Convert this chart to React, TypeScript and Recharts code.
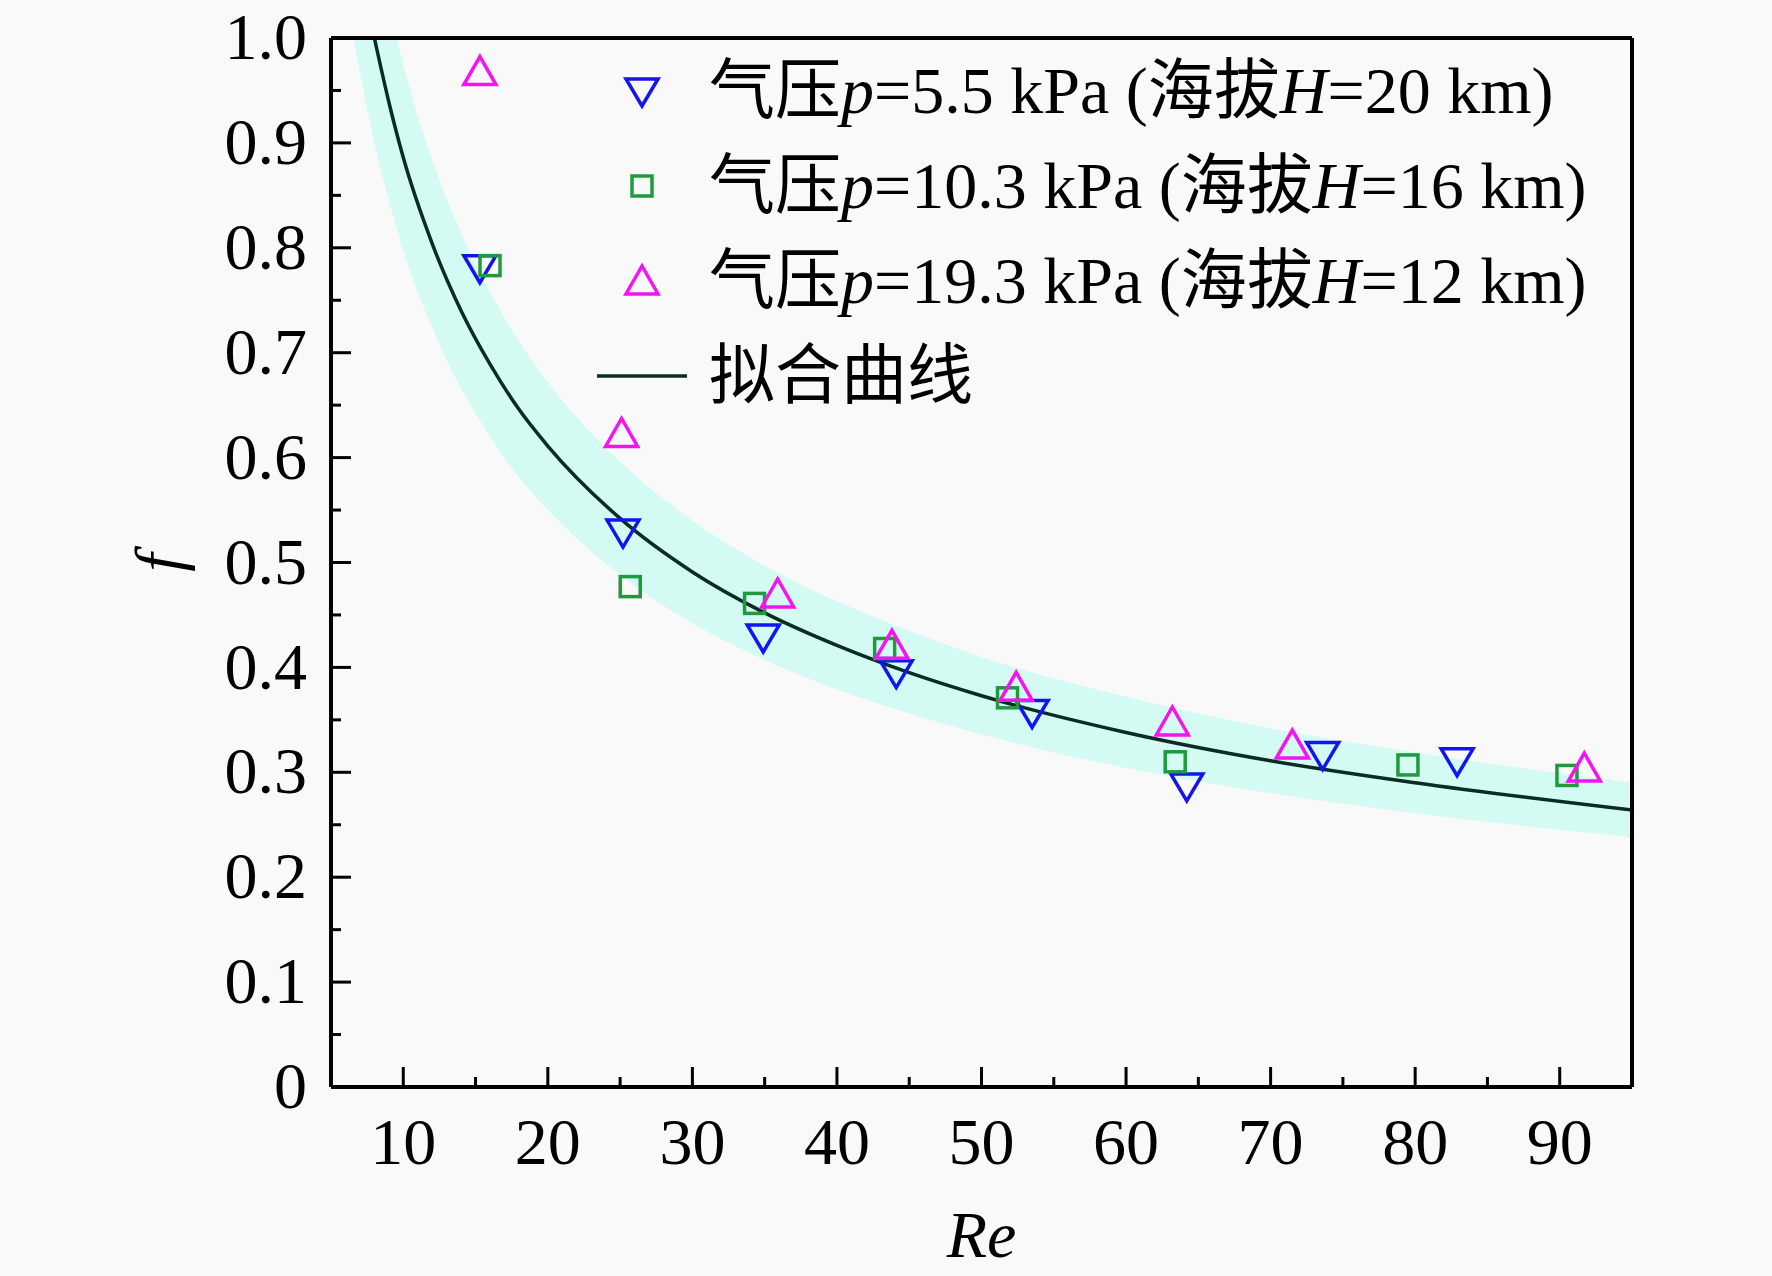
import React from 'react';
import { ComposedChart, XAxis, YAxis, Line, Area, Scatter, ReferenceLine } from 'recharts';

document.body.style.margin = '0';
document.body.style.background = '#f9f9f9';

const FONT = '"Liberation Serif", "Times New Roman", "Noto Sans CJK SC", serif';
const BLUE = '#1414ee';
const GREEN = '#1f9a3c';
const MAGENTA = '#f514f0';
const CURVE = '#0b2c20';
const BAND = '#d4fbf3';

// 气压 p=5.5 kPa (H=20 km)
const reP55 = [15.3, 25.2, 34.9, 44.1, 53.5, 64.2, 73.6, 82.9];
const fP55 = [0.781, 0.529, 0.429, 0.395, 0.357, 0.287, 0.317, 0.311];
// 气压 p=10.3 kPa (H=16 km)
const reP103 = [16.0, 25.7, 34.3, 43.3, 51.8, 63.4, 79.5, 90.5];
const fP103 = [0.783, 0.477, 0.461, 0.418, 0.371, 0.310, 0.307, 0.297];
// 气压 p=19.3 kPa (H=12 km)
const reP193 = [15.3, 25.1, 35.9, 43.8, 52.4, 63.2, 71.5, 91.7];
const fP193 = [0.968, 0.623, 0.470, 0.421, 0.381, 0.348, 0.326, 0.304];

// 拟合曲线
const reFit = [8, 9, 10, 12, 14, 16, 18, 20, 25, 30, 35, 40, 45, 50, 60, 70, 80, 95];
const fFit = [1.0, 0.939, 0.886, 0.804, 0.74, 0.689, 0.646, 0.611, 0.542, 0.491, 0.452, 0.421, 0.395, 0.373, 0.338, 0.311, 0.29, 0.264];

// shaded band around the fit
const reBand = [6.5, 7, 8, 9, 10, 12, 14, 16, 18, 20, 25, 30, 35, 40, 45, 50, 60, 70, 80, 95];
const bandLow = [1.006, 0.967, 0.9, 0.845, 0.797, 0.724, 0.666, 0.62, 0.581, 0.55, 0.488, 0.442, 0.407, 0.379, 0.356, 0.336, 0.304, 0.28, 0.261, 0.238];
const bandHigh = [1.23, 1.181, 1.1, 1.033, 0.975, 0.884, 0.814, 0.758, 0.711, 0.672, 0.596, 0.54, 0.497, 0.463, 0.435, 0.41, 0.372, 0.342, 0.319, 0.29];

const xTicks = [10, 15, 20, 25, 30, 35, 40, 45, 50, 55, 60, 65, 70, 75, 80, 85, 90];
const yTicks = [0, 0.05, 0.1, 0.15, 0.2, 0.25, 0.3, 0.35, 0.4, 0.45, 0.5, 0.55, 0.6, 0.65, 0.7, 0.75, 0.8, 0.85, 0.9, 0.95, 1.0];

const toPoints = (re: number[], f: number[]) => re.map((r, i) => ({ re: r, f: f[i] }));
const dataP55 = toPoints(reP55, fP55);
const dataP103 = toPoints(reP103, fP103);
const dataP193 = toPoints(reP193, fP193);
const fitData = toPoints(reFit, fFit);
const bandData = reBand.map((r, i) => ({ re: r, band: [bandLow[i], bandHigh[i]] }));

const X_MARGIN = 30;
const Y_MARGIN = 24;

const XTick = (props: any) => {
  const { x, y, payload } = props;
  const major = payload.value % 10 === 0;
  const base = y - X_MARGIN;
  return (
    <g>
      <line x1={x} x2={x} y1={base} y2={base - (major ? 20 : 10)} stroke="#000" strokeWidth={3} />
      {major && (
        <text x={x} y={y} dy="0.71em" textAnchor="middle" fontSize={66} fontFamily={FONT} fill="#000">
          {payload.value}
        </text>
      )}
    </g>
  );
};

const YTick = (props: any) => {
  const { x, y, payload } = props;
  const v = payload.value;
  const major = Math.round(v * 100) % 10 === 0;
  const base = x + Y_MARGIN;
  const label = v === 0 ? '0' : v.toFixed(1);
  return (
    <g>
      <line x1={base} x2={base + (major ? 20 : 10)} y1={y} y2={y} stroke="#000" strokeWidth={3} />
      {major && (
        <text x={x} y={y} dy="0.32em" textAnchor="end" fontSize={66} fontFamily={FONT} fill="#000">
          {label}
        </text>
      )}
    </g>
  );
};

const DownTriangle = (props: any) => {
  const { cx, cy } = props;
  return (
    <polygon
      points={`${cx - 16},${cy - 12} ${cx + 16},${cy - 12} ${cx},${cy + 15}`}
      fill="none"
      stroke={BLUE}
      strokeWidth={3.5}
    />
  );
};

const UpTriangle = (props: any) => {
  const { cx, cy } = props;
  return (
    <polygon
      points={`${cx - 16},${cy + 13} ${cx + 16},${cy + 13} ${cx},${cy - 15}`}
      fill="none"
      stroke={MAGENTA}
      strokeWidth={3.5}
    />
  );
};

const Square = (props: any) => {
  const { cx, cy } = props;
  return <rect x={cx - 10} y={cy - 10} width={20} height={20} fill="none" stroke={GREEN} strokeWidth={3.5} />;
};

const legendRows = [
  { shape: DownTriangle, p: '5.5', h: '20' },
  { shape: Square, p: '10.3', h: '16' },
  { shape: UpTriangle, p: '19.3', h: '12' },
];

function LegendBox() {
  const rowStyle: React.CSSProperties = { height: 95, display: 'flex', alignItems: 'center' };
  const textStyle: React.CSSProperties = { fontFamily: FONT, fontSize: 66, lineHeight: 1, marginLeft: 22, whiteSpace: 'nowrap', color: '#000' };
  return (
    <div style={{ position: 'absolute', left: 597, top: 43, pointerEvents: 'none' }}>
      {legendRows.map((row, i) => {
        const Shape = row.shape;
        return (
          <div key={i} style={rowStyle}>
            <svg width={90} height={40}>
              <Shape cx={45} cy={20} />
            </svg>
            <span style={textStyle}>
              气压<i>p</i>={row.p} kPa (海拔<i>H</i>={row.h} km)
            </span>
          </div>
        );
      })}
      <div style={rowStyle}>
        <svg width={90} height={40}>
          <line x1={0} x2={90} y1={20} y2={20} stroke={CURVE} strokeWidth={3.5} />
        </svg>
        <span style={textStyle}>拟合曲线</span>
      </div>
    </div>
  );
}

export default function App() {
  return (
    <div style={{ position: 'relative', width: 1772, height: 1276, background: '#f9f9f9' }}>
      <ComposedChart width={1772} height={1276} margin={{ top: 38, right: 140, left: 0, bottom: 0 }}>
        <XAxis
          type="number"
          dataKey="re"
          domain={[5, 95]}
          ticks={xTicks}
          interval={0}
          allowDataOverflow
          tickSize={0}
          tickMargin={X_MARGIN}
          tickLine={false}
          tick={XTick}
          axisLine={{ stroke: '#000', strokeWidth: 4 }}
          height={189}
          label={{ value: 'Re', position: 'insideBottom', offset: 19, fontSize: 66, fontStyle: 'italic', fontFamily: FONT, fill: '#000' }}
        />
        <YAxis
          type="number"
          domain={[0, 1]}
          ticks={yTicks}
          interval={0}
          allowDataOverflow
          tickSize={0}
          tickMargin={Y_MARGIN}
          tickLine={false}
          tick={YTick}
          axisLine={{ stroke: '#000', strokeWidth: 4 }}
          width={331}
          label={{ value: 'f', angle: -90, position: 'insideLeft', offset: 158, textAnchor: 'middle', fontSize: 66, fontStyle: 'italic', fontFamily: FONT, fill: '#000' }}
        />
        <Area
          data={bandData}
          dataKey="band"
          type="monotone"
          fill={BAND}
          fillOpacity={1}
          stroke="none"
          isAnimationActive={false}
          activeDot={false}
        />
        <Scatter data={dataP55} dataKey="f" shape={DownTriangle} isAnimationActive={false} />
        <Scatter data={dataP103} dataKey="f" shape={Square} isAnimationActive={false} />
        <Scatter data={dataP193} dataKey="f" shape={UpTriangle} isAnimationActive={false} />
        <Line
          data={fitData}
          dataKey="f"
          type="monotone"
          stroke={CURVE}
          strokeWidth={3.5}
          dot={false}
          activeDot={false}
          isAnimationActive={false}
        />
        <ReferenceLine y={1} stroke="#000" strokeWidth={4} />
        <ReferenceLine x={95} stroke="#000" strokeWidth={4} />
      </ComposedChart>
      <LegendBox />
    </div>
  );
}
